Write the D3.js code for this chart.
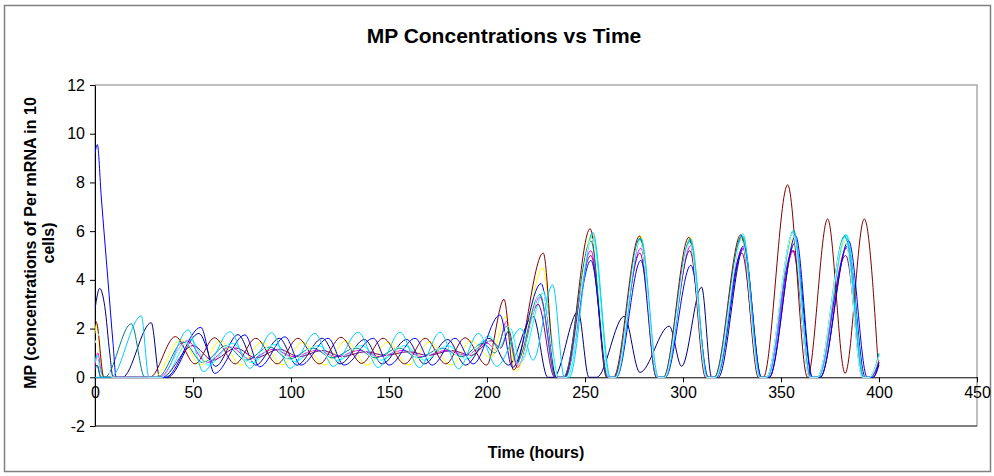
<!DOCTYPE html>
<html lang="en">
<head>
    <meta charset="UTF-8">
    <title>MP Concentrations vs Time</title>
    <script src="https://cdn.jsdelivr.net/npm/d3@7"></script>
    <style>
        body { margin: 0; background: #fff; }
        text { font-family: Arial, "Liberation Sans", sans-serif; }
    </style>
</head>
<body>
<div id="chart"></div>
<script>
    // data: [time (hours), MP] points, one array per cell
    var cell1 = [[0,2.8],[2.4,3.65],[5,2.9],[7.5,1.0],[9.2,0],[14,0],[28.7,2.24],[33,0],[37,0],[53,1.8],[61.5,0.45],[73,1.75],[82,0.5],[94,1.6],[103,0.5],[116,1.6],[125,0.55],[137.5,1.55],[146.5,0.55],[159,1.55],[168,0.55],[180,1.55],[189,0.5],[201,1.6],[211,0.5],[223.5,2.5],[231,0],[234,0],[246.5,2.7],[252,0],[256,0],[270,2.5],[278,0.2],[293,2.1],[299.3,0.45],[309.5,3.7],[314.6,0],[318,0],[331,5.3],[340,0],[344,0],[357,5.5],[366,0],[370,0],[384,5.4],[393,0],[397,0],[400,0.5]];
    var cell2 = [[0,0.5],[1.5,1.0],[3,0.3],[5,0],[33,0],[47,1.5],[57,0.6],[69,1.25],[79,0.75],[91,1.15],[101,0.85],[113,1.1],[123,0.85],[135,1.1],[145,0.85],[157,1.1],[167,0.85],[179,1.1],[189,0.9],[200,1.4],[205,1.1],[210,2.3],[215.5,0.4],[227,3.3],[235,0],[239.5,0],[253,5.2],[261.5,0],[265,0],[278.5,5.3],[287,0],[290.5,0],[304,5.4],[312.5,0],[316.5,0],[330.5,5.3],[339.5,0],[343,0],[356.5,5.2],[365,0],[369,0],[383.5,5.3],[392.5,0],[396,0],[400,0.7]];
    var cell3 = [[0,1.8],[0.8,2.2],[2.5,1.0],[4.5,0],[30,0],[44,1.55],[54,0.5],[64,1.5],[74.5,0.5],[85,1.45],[95.5,0.5],[106,1.45],[117,0.5],[128,1.5],[139,0.5],[149.5,1.45],[160,0.5],[171,1.45],[181.5,0.5],[192,1.5],[202,0.8],[209.7,2.5],[215,0.25],[228.4,4.5],[236,0],[240.5,0],[253.5,5.9],[262,0],[266,0],[278.5,5.8],[287,0],[291,0],[303.8,5.75],[312.5,0],[316.5,0],[330,5.7],[339,0],[342.5,0],[356.2,5.7],[365,0],[369,0],[383,5.6],[392,0],[395.5,0],[400,0.8]];
    var cell4 = [[0,0.6],[1,0.9],[3,0.2],[5,0],[35,0],[48.5,1.55],[58,0.5],[70,1.4],[80,0.6],[92,1.35],[102,0.65],[114,1.3],[124,0.7],[136,1.3],[146,0.7],[158,1.3],[168,0.7],[180,1.3],[190,0.75],[201,1.7],[206,1.2],[212,2.0],[217,0.6],[229,3.5],[236.5,0],[241,0],[254,5.8],[262.5,0],[266,0],[278.5,5.7],[287,0],[291,0],[304,5.6],[312.5,0],[317,0],[330.5,5.9],[339.5,0],[343,0],[356.5,6.05],[365,0],[369,0],[383.5,5.85],[392.5,0],[396,0],[400,0.95]];
    var cell5 = [[0,0.3],[1,0.5],[3,0],[34,0],[50,1.3],[60,0.7],[72,1.2],[82,0.8],[94,1.15],[104,0.85],[116,1.1],[126,0.85],[138,1.05],[148,0.9],[160,1.05],[170,0.9],[182,1.1],[192,0.9],[202,1.5],[207,1.2],[211,1.9],[216,0.5],[226,3.0],[234.5,0],[239,0],[253,5.0],[261.5,0],[265,0],[278,5.1],[286.5,0],[290.5,0],[303.5,5.2],[312,0],[316,0],[330,5.1],[339,0],[342.5,0],[356,5.2],[365,0],[368.5,0],[383,5.0],[392,0],[395.5,0],[400,0.6]];
    var cell6 = [[0,2.35],[1,2.2],[4.5,0],[28,0],[41,1.67],[51,0.55],[61,1.62],[71.5,0.55],[82,1.6],[93,0.55],[103.5,1.6],[114.5,0.55],[125.5,1.64],[136,0.57],[147,1.6],[158,0.55],[168.5,1.6],[179,0.55],[188.8,1.62],[199.8,0.5],[208.7,3.2],[213.5,0.3],[228.7,5.1],[235,0],[239.5,0],[252.6,6.1],[261,0],[264.5,0],[277.8,5.8],[286.5,0],[290,0],[303,5.75],[311.5,0],[316,0],[329.5,5.85],[338.5,0],[341,0],[353.4,7.9],[363.5,0],[373.8,6.5],[382.7,0.16],[392.5,6.5],[399.6,0.45]];
    var cell7 = [[0,0.4],[1,0.5],[3,0],[5,0],[18.5,2.2],[25.4,0],[32,0],[45,1.45],[55,0.6],[67,1.3],[77,0.7],[89,1.25],[99,0.75],[111,1.2],[121,0.8],[133,1.2],[143,0.8],[155,1.2],[165,0.8],[177,1.2],[187,0.85],[198,1.4],[204,1.0],[210,2.1],[215,0.6],[227,3.4],[235,0],[239,0],[253,5.6],[261.5,0],[265,0],[278,5.7],[286.5,0],[290,0],[303.5,5.6],[312,0],[316,0],[330,5.8],[339,0],[342.5,0],[356,5.9],[364.5,0],[368.5,0],[382.5,5.8],[391.5,0],[395,0],[400,0.9]];
    var cell8 = [[0,9.2],[1.2,9.55],[3.2,7.4],[6.6,4.0],[9.2,1.4],[10.8,0],[36,0],[54,2.05],[61,0.16],[76.5,1.74],[84,0.43],[97,1.66],[105,0.5],[119,1.6],[127,0.5],[142,1.6],[150,0.5],[163.3,1.6],[172,0.5],[183.7,1.6],[193,0.55],[206.6,2.56],[213,0.4],[227.6,3.85],[235.5,0],[240,0],[253,4.8],[262,0],[266,0],[278.5,4.8],[287,0],[291,0],[304,4.6],[313,0],[317,0],[331,5.4],[340,0],[344,0],[357.5,5.8],[366,0],[370,0],[384.5,5.6],[394,0],[397,0],[400,0.6]];
    var cell9 = [[0,0],[8,0],[23.6,2.52],[27.5,0],[34,0],[47.5,1.95],[55.3,0.23],[68.9,1.87],[79,0.37],[90.1,1.83],[99.5,0.37],[112.2,1.8],[121.5,0.45],[134.3,1.85],[144.5,0.4],[155.6,1.85],[165.5,0.4],[176,1.85],[185.5,0.35],[195.6,1.8],[205,0.45],[217.3,2.0],[223.5,0.7],[233.5,3.8],[239.5,0],[242,0],[254,5.95],[263,0],[266,0],[278.5,5.7],[287.5,0],[291,0],[303.8,5.7],[312.5,0],[317,0],[330.5,5.8],[339.5,0],[343,0],[356.5,6.0],[365,0],[369,0],[383,5.85],[392,0],[395.5,0],[400,1.0]];
    var cell10 = [[0,1.4],[3.5,1.9],[6.5,0.6],[8.5,0],[34,0],[46,1.4],[56,0.6],[68,1.3],[78,0.65],[90,1.3],[100,0.7],[112,1.25],[122,0.7],[134,1.25],[144,0.7],[156,1.25],[166,0.75],[178,1.25],[188,0.75],[199,1.6],[205,1.1],[211,2.1],[216,0.5],[228,3.6],[236,0],[240.5,0],[253.5,5.7],[262,0],[265.5,0],[278,5.6],[287,0],[290.5,0],[303.5,5.5],[312,0],[316.5,0],[330,5.6],[339,0],[342.5,0],[356,5.9],[364.5,0],[368.5,0],[382.5,5.7],[391.5,0],[395,0],[400,0.85]];

    var cells = [cell1, cell2, cell3, cell4, cell5, cell6, cell7, cell8, cell9, cell10];
    var colors = ["#000080", "#ff00ff", "#ffff00", "#00ffff", "#800080", "#800000", "#008080", "#0000ff", "#00ccff", "#ccffff"];
    var xTicks = [0, 50, 100, 150, 200, 250, 300, 350, 400, 450];
    var yTicks = [-2, 0, 2, 4, 6, 8, 10, 12];

    var width = 994, height = 476;
    var plot = { left: 95, right: 977, top: 85, bottom: 426 };
    var font = "Arial, 'Liberation Sans', sans-serif";

    var svg = d3.select("#chart").append("svg")
        .attr("width", width).attr("height", height);

    // outer chart border
    svg.append("rect")
        .attr("x", 4.5).attr("y", 5.5)
        .attr("width", 986).attr("height", 466)
        .attr("fill", "#fff").attr("stroke", "#808080").attr("stroke-width", 1.5);

    var x = d3.scaleLinear().domain([0, 450]).range([plot.left, plot.right]);
    var y = d3.scaleLinear().domain([-2, 12]).range([plot.bottom, plot.top]);

    // plot area border
    svg.append("rect")
        .attr("x", plot.left).attr("y", plot.top)
        .attr("width", plot.right - plot.left).attr("height", plot.bottom - plot.top)
        .attr("fill", "none").attr("stroke", "#808080").attr("stroke-width", 1);
    svg.append("line")
        .attr("x1", plot.left).attr("x2", plot.right)
        .attr("y1", plot.bottom).attr("y2", plot.bottom)
        .attr("stroke", "#404040");

    // y axis
    var yAxis = svg.append("g")
        .attr("transform", "translate(" + plot.left + ",0)")
        .call(d3.axisLeft(y).tickValues(yTicks).tickSize(5).tickSizeOuter(0)
            .tickFormat(function (d) { return String(d); }));
    yAxis.select(".domain").attr("stroke", "#000");
    yAxis.selectAll(".tick line").attr("stroke", "#000");
    yAxis.selectAll("text").attr("font-size", 16).attr("fill", "#000").attr("x", -10)
        .style("font-family", font);

    // x axis crosses at 0
    var xAxis = svg.append("g")
        .attr("transform", "translate(0," + y(0) + ")")
        .call(d3.axisBottom(x).tickValues(xTicks).tickSize(5).tickSizeOuter(0)
            .tickFormat(function (d) { return String(d); }));
    xAxis.select(".domain").attr("stroke", "#000");
    xAxis.selectAll(".tick line").attr("stroke", "#000");
    xAxis.selectAll("text").attr("font-size", 16).attr("fill", "#000").attr("y", 9)
        .style("font-family", font);

    svg.append("clipPath").attr("id", "clip").append("rect")
        .attr("x", plot.left).attr("y", plot.top)
        .attr("width", plot.right - plot.left).attr("height", plot.bottom - plot.top);

    var line = d3.line()
        .x(function (d) { return x(d[0]); })
        .y(function (d) { return y(d[1]); })
        .curve(d3.curveMonotoneX);

    svg.append("g").attr("clip-path", "url(#clip)")
        .selectAll("path").data(cells).enter().append("path")
        .attr("d", line)
        .attr("fill", "none")
        .attr("stroke", function (d, i) { return colors[i]; })
        .attr("stroke-width", 1);

    // titles
    svg.append("text")
        .attr("x", 504).attr("y", 43)
        .attr("text-anchor", "middle")
        .attr("font-size", 21).attr("font-weight", "bold")
        .text("MP Concentrations vs Time");

    svg.append("text")
        .attr("x", 536).attr("y", 458)
        .attr("text-anchor", "middle")
        .attr("font-size", 16).attr("font-weight", "bold")
        .text("Time (hours)");

    var yTitle = svg.append("text")
        .attr("transform", "translate(36,243) rotate(-90)")
        .attr("text-anchor", "middle")
        .attr("font-size", 16).attr("font-weight", "bold");
    yTitle.append("tspan").attr("x", 0).attr("y", 0).text("MP (concentrations of Per mRNA in 10");
    yTitle.append("tspan").attr("x", 0).attr("y", 18).text("cells)");
</script>
</body>
</html>
